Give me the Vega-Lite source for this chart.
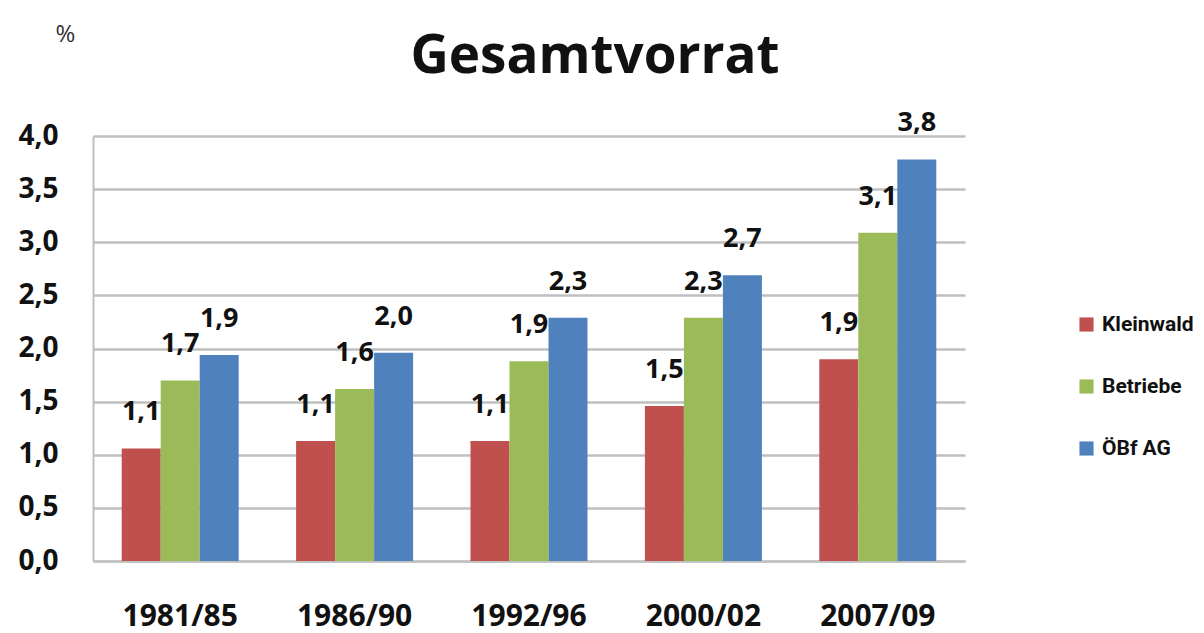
{
  "$schema": "https://vega.github.io/schema/vega-lite/v6.json",
  "autosize": {"type": "none"},
  "width": 872,
  "height": 425,
  "padding": {"left": 93, "top": 136, "right": 239, "bottom": 72},
  "background": "white",
  "config": {
    "locale": {"number": {"decimal": ",", "thousands": ".", "grouping": [3], "currency": ["", " €"]}},
    "view": {"stroke": null},
    "font": "Open Sans"
  },
  "title": {
    "text": "Gesamtvorrat",
    "font": "Open Sans",
    "fontSize": 53,
    "fontWeight": "bold",
    "color": "#111111",
    "anchor": "middle",
    "dx": 66,
    "offset": -62
  },
  "data": {
    "values": [
      {"period": "1981/85", "group": "Kleinwald", "value": 1.06},
      {"period": "1981/85", "group": "Betriebe", "value": 1.70},
      {"period": "1981/85", "group": "ÖBf AG", "value": 1.94},
      {"period": "1986/90", "group": "Kleinwald", "value": 1.13},
      {"period": "1986/90", "group": "Betriebe", "value": 1.62},
      {"period": "1986/90", "group": "ÖBf AG", "value": 1.96},
      {"period": "1992/96", "group": "Kleinwald", "value": 1.13},
      {"period": "1992/96", "group": "Betriebe", "value": 1.88},
      {"period": "1992/96", "group": "ÖBf AG", "value": 2.29},
      {"period": "2000/02", "group": "Kleinwald", "value": 1.46},
      {"period": "2000/02", "group": "Betriebe", "value": 2.29},
      {"period": "2000/02", "group": "ÖBf AG", "value": 2.69},
      {"period": "2007/09", "group": "Kleinwald", "value": 1.90},
      {"period": "2007/09", "group": "Betriebe", "value": 3.09},
      {"period": "2007/09", "group": "ÖBf AG", "value": 3.78}
    ]
  },
  "encoding": {
    "x": {
      "field": "period",
      "type": "nominal",
      "sort": null,
      "scale": {"paddingInner": 0, "paddingOuter": 0},
      "axis": {
        "title": null,
        "labelAngle": 0,
        "labelFont": "Open Sans",
        "labelFontSize": 30,
        "labelFontWeight": "bold",
        "labelColor": "#111111",
        "labelPadding": 40,
        "ticks": false,
        "domainColor": "#bfbfbf",
        "domainWidth": 2,
        "grid": false
      }
    },
    "xOffset": {
      "field": "group",
      "type": "nominal",
      "sort": ["Kleinwald", "Betriebe", "ÖBf AG"],
      "scale": {"paddingInner": 0, "paddingOuter": 0.736}
    },
    "y": {
      "field": "value",
      "type": "quantitative",
      "scale": {"domain": [0, 4]},
      "axis": {
        "title": "%",
        "titleAngle": 0,
        "titleX": -28,
        "titleY": -102,
        "titleAlign": "center",
        "titleBaseline": "middle",
        "titleFont": "Open Sans",
        "titleFontSize": 24,
        "titleFontWeight": "normal",
        "titleColor": "#333333",
        "values": [0, 0.5, 1, 1.5, 2, 2.5, 3, 3.5, 4],
        "format": ".1f",
        "labelFont": "Open Sans",
        "labelFontSize": 28,
        "labelFontWeight": "bold",
        "labelColor": "#111111",
        "labelPadding": 35,
        "ticks": false,
        "domainColor": "#bfbfbf",
        "domainWidth": 2,
        "gridColor": "#bfbfbf",
        "gridWidth": 2.5
      }
    }
  },
  "layer": [
    {
      "mark": {"type": "bar"},
      "encoding": {
        "color": {
          "field": "group",
          "type": "nominal",
          "sort": ["Kleinwald", "Betriebe", "ÖBf AG"],
          "scale": {"domain": ["Kleinwald", "Betriebe", "ÖBf AG"], "range": ["#C0504D", "#9BBB59", "#4F81BD"]},
          "legend": {
            "title": null,
            "orient": "none",
            "legendX": 983,
            "legendY": 178,
            "symbolType": "square",
            "symbolSize": 200,
            "symbolStrokeWidth": 0,
            "labelFont": "Roboto",
            "labelFontSize": 21,
            "labelFontWeight": "bold",
            "labelColor": "#111111",
            "labelOffset": 5,
            "labelLimit": 200,
            "rowPadding": 40
          }
        }
      }
    },
    {
      "mark": {"type": "text", "baseline": "middle", "dy": -36, "font": "Open Sans", "fontSize": 27, "fontWeight": "bold", "color": "#111111"},
      "encoding": {
        "text": {"field": "value", "type": "quantitative", "format": ".1f"}
      }
    }
  ]
}
